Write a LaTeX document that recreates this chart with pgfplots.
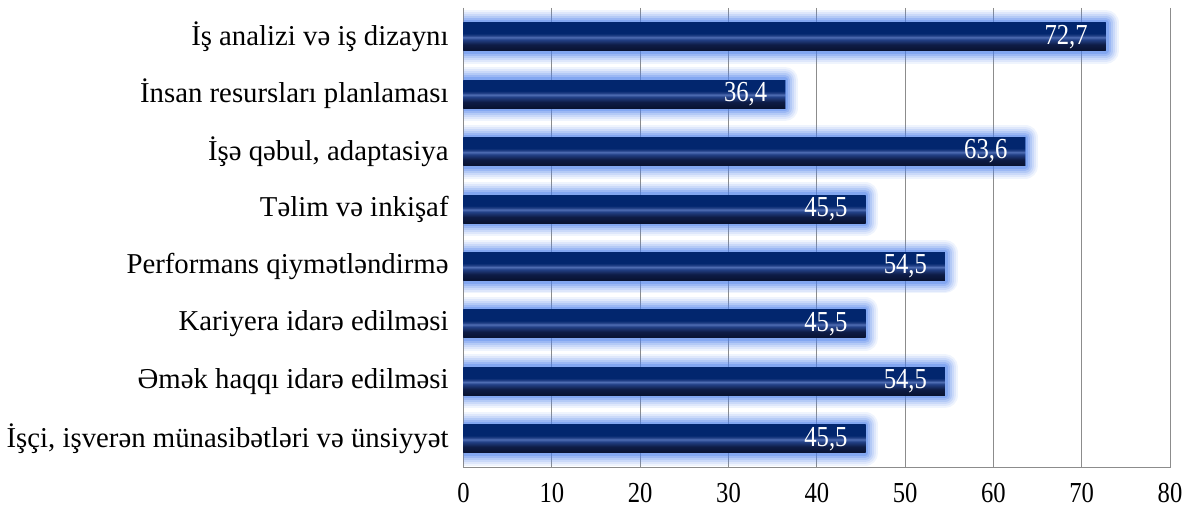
\documentclass[border=0pt]{standalone}
\usepackage{pgfplots}
\pgfplotsset{compat=1.18}
\usepackage{pgfplotstable}
\usepackage{fontspec}
\setmainfont{Liberation Serif}
\definecolor{bdark}{RGB}{8,18,48}
\definecolor{bdark2}{RGB}{14,28,70}
\definecolor{bmid}{RGB}{35,65,135}
\definecolor{bhl}{RGB}{80,110,180}
\definecolor{btop}{RGB}{2,38,110}
\definecolor{glow}{RGB}{80,130,235}
\definecolor{gridgray}{RGB}{140,140,140}
\pgfdeclareverticalshading{barshade}{100bp}{color(0bp)=(bdark); color(25bp)=(bdark); color(36bp)=(bdark2); color(45bp)=(bmid); color(49bp)=(bhl); color(52bp)=(bmid); color(56bp)=(btop); color(75bp)=(btop); color(100bp)=(btop)}
\pgfplotstableread{
idx v
0 72.7
1 36.4
2 63.6
3 45.5
4 54.5
5 45.5
6 54.5
7 45.5
}\datatable
\begin{document}
\begin{tikzpicture}
\begin{axis}[
  scale only axis, width=353.5pt, height=230pt,
  xmin=0, xmax=80, xtick={0,10,...,80},
  ymin=-0.5, ymax=7.5, y dir=reverse,
  ytick={0,...,7},
  yticklabels={{İş analizi və iş dizaynı},{İnsan resursları planlaması},{İşə qəbul, adaptasiya},{Təlim və inkişaf},{Performans qiymətləndirmə},{Kariyera idarə edilməsi},{Əmək haqqı idarə edilməsi},{İşçi, işverən münasibətləri və ünsiyyət}},
  xmajorgrids, major grid style={gridgray, line width=0.5pt},
  axis x line*=bottom, axis y line*=left,
  axis line style={gridgray, line width=0.6pt},
  major tick length=0pt,
  xticklabel style={font=\fontsize{14.5}{16}\selectfont, xscale=0.85, yshift=-4.2pt},
  yticklabel style={font=\fontsize{14.4}{16}\selectfont, xshift=-4pt},
  /pgf/number format/assume math mode=true,
  mainbar/.style={xbar, bar shift=0pt, bar width=14pt, draw=none, shade, shading=barshade,
    preaction={draw=glow, line width=13pt, draw opacity=0.09, line join=round},
    preaction={draw=glow, line width=11pt, draw opacity=0.11, line join=round},
    preaction={draw=glow, line width=9pt, draw opacity=0.14, line join=round},
    preaction={draw=glow, line width=7pt, draw opacity=0.18, line join=round},
    preaction={draw=glow, line width=5pt, draw opacity=0.24, line join=round},
    preaction={draw=glow, line width=3pt, draw opacity=0.32, line join=round},
    point meta=x,
    nodes near coords={\pgfmathprintnumber[fixed, fixed zerofill, precision=1, use comma, assume math mode=true]{\pgfplotspointmeta}},
    nodes near coords style={anchor=east, text=white, font=\fontsize{14.5}{16}\selectfont, xscale=0.85, xshift=-7pt}},
]
\pgfplotsinvokeforeach{0,...,7}{
  \addplot[mainbar] table[x=v, y=idx, restrict expr to domain={\thisrow{idx}}{#1:#1}] {\datatable};
}
\end{axis}
\coordinate (bl) at ([shift={(-231.5pt,-20pt)}]current axis.south west);
\coordinate (tr) at ([shift={(13.5pt,4pt)}]current axis.north east);
\path (bl) rectangle (tr);
\end{tikzpicture}
\end{document}
